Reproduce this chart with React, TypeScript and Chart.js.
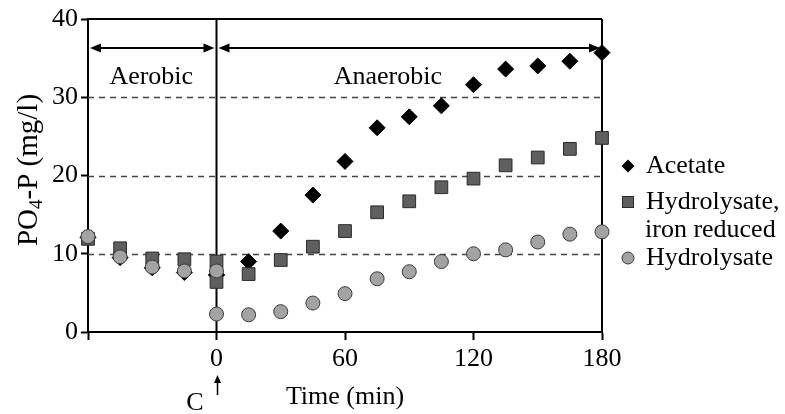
import React, { useEffect, useRef } from "react";
import { Chart, registerables } from "chart.js";

Chart.register(...registerables);

const aerobicTimes = [-60, -45, -30, -15, 0];
const anaerobicTimes = [0, 15, 30, 45, 60, 75, 90, 105, 120, 135, 150, 165, 180];

const acetateAerobic = [12.1, 9.5, 8.2, 7.6, 7.3];
const acetateAnaerobic = [7.3, 9.0, 12.9, 17.5, 21.8, 26.1, 27.5, 28.9, 31.6, 33.6, 34.0, 34.6, 35.7];

const ironReducedAerobic = [11.9, 10.7, 9.4, 9.3, 9.0];
const ironReducedAnaerobic = [6.4, 7.4, 9.2, 10.9, 12.9, 15.3, 16.7, 18.5, 19.6, 21.3, 22.3, 23.4, 24.8];

const hydrolysateAerobic = [12.2, 9.6, 8.3, 7.8, 7.8];
const hydrolysateAnaerobic = [2.3, 2.2, 2.6, 3.7, 4.9, 6.8, 7.7, 9.0, 10.0, 10.5, 11.5, 12.5, 12.8];

const xTicks = [-60, 0, 60, 120, 180];
const yTicks = [0, 10, 20, 30, 40];
const dashedLevels = [10, 20, 30];

const seriesNames = ["Acetate", "Hydrolysate,\niron reduced", "Hydrolysate"];
const phaseLabels = ["Aerobic", "Anaerobic"];
const phaseBounds = [-60, 0, 180];
const phaseArrowY = 36.3;
const phaseLabelY = 32.6;

const FONT = '"Liberation Serif", "Times New Roman", serif';

function pts(xs: number[], ys: number[]) {
  return xs.map((x, i) => ({ x, y: ys[i] }));
}

const annotationPlugin = {
  id: "custom",
  beforeDatasetsDraw(chart: any) {
    const { ctx, chartArea } = chart;
    const xs = chart.scales.x;
    const ys = chart.scales.y;
    ctx.save();
    // dashed gridlines
    ctx.strokeStyle = "#444";
    ctx.lineWidth = 1.3;
    ctx.setLineDash([6, 5]);
    dashedLevels.forEach((v) => {
      const y = Math.round(ys.getPixelForValue(v)) + 0.5;
      ctx.beginPath();
      ctx.moveTo(chartArea.left, y);
      ctx.lineTo(chartArea.right, y);
      ctx.stroke();
    });
    ctx.setLineDash([]);
    ctx.strokeStyle = "#000";
    ctx.lineWidth = 2;
    // top border
    const yTop = ys.getPixelForValue(40);
    ctx.beginPath();
    ctx.moveTo(chartArea.left, yTop);
    ctx.lineTo(chartArea.right, yTop);
    ctx.stroke();
    // vertical lines at 0 and 180
    [0, 180].forEach((v) => {
      const x = xs.getPixelForValue(v);
      ctx.beginPath();
      ctx.moveTo(x, chartArea.top);
      ctx.lineTo(x, chartArea.bottom);
      ctx.stroke();
    });
    // phase arrows
    const ay = ys.getPixelForValue(phaseArrowY);
    for (let i = 0; i < 2; i++) {
      const x1 = xs.getPixelForValue(phaseBounds[i]) + 2;
      const x2 = xs.getPixelForValue(phaseBounds[i + 1]) - 2;
      ctx.lineWidth = 2;
      ctx.beginPath();
      ctx.moveTo(x1 + 6, ay);
      ctx.lineTo(x2 - 6, ay);
      ctx.stroke();
      ctx.fillStyle = "#000";
      ctx.beginPath();
      ctx.moveTo(x1, ay);
      ctx.lineTo(x1 + 11, ay - 4.5);
      ctx.lineTo(x1 + 11, ay + 4.5);
      ctx.closePath();
      ctx.fill();
      ctx.beginPath();
      ctx.moveTo(x2, ay);
      ctx.lineTo(x2 - 11, ay - 4.5);
      ctx.lineTo(x2 - 11, ay + 4.5);
      ctx.closePath();
      ctx.fill();
    }
    ctx.fillStyle = "#000";
    ctx.font = `26px ${FONT}`;
    ctx.textAlign = "center";
    ctx.textBaseline = "middle";
    const ly = ys.getPixelForValue(phaseLabelY);
    ctx.fillText(phaseLabels[0], (xs.getPixelForValue(-60) + xs.getPixelForValue(0)) / 2 - 1, ly);
    ctx.fillText(phaseLabels[1], xs.getPixelForValue(80), ly);
    ctx.restore();
  },
  afterDraw(chart: any) {
    const { ctx } = chart;
    const xs = chart.scales.x;
    ctx.save();
    ctx.fillStyle = "#000";
    ctx.strokeStyle = "#000";
    ctx.font = `26px ${FONT}`;
    ctx.textBaseline = "middle";
    // x title
    ctx.textAlign = "center";
    ctx.fillText("Time (min)", xs.getPixelForValue(60), 397);
    // C marker
    ctx.fillText("C", 195, 403);
    const x0 = xs.getPixelForValue(0) + 1;
    ctx.lineWidth = 1.5;
    ctx.beginPath();
    ctx.moveTo(x0, 395);
    ctx.lineTo(x0, 381);
    ctx.stroke();
    ctx.beginPath();
    ctx.moveTo(x0, 375);
    ctx.lineTo(x0 - 3.5, 383);
    ctx.lineTo(x0 + 3.5, 383);
    ctx.closePath();
    ctx.fill();

    // y title with subscript
    ctx.save();
    ctx.translate(27, 170);
    ctx.rotate(-Math.PI / 2);
    const big = `29px ${FONT}`;
    const small = `19px ${FONT}`;
    ctx.font = big;
    const w1 = ctx.measureText("PO").width;
    const w3 = ctx.measureText("-P (mg/l)").width;
    ctx.font = small;
    const w2 = ctx.measureText("4").width;
    const total = w1 + w2 + w3;
    let cx = -total / 2;
    ctx.textAlign = "left";
    ctx.textBaseline = "alphabetic";
    ctx.font = big;
    ctx.fillText("PO", cx, 10);
    cx += w1;
    ctx.font = small;
    ctx.fillText("4", cx, 15);
    cx += w2;
    ctx.font = big;
    ctx.fillText("-P (mg/l)", cx, 10);
    ctx.restore();

    // legend
    const mx = 628;
    const tx = 646;
    const legendFont = `26px ${FONT}`;
    ctx.font = legendFont;
    ctx.textAlign = "left";
    ctx.textBaseline = "middle";
    // diamond
    ctx.fillStyle = "#000";
    ctx.beginPath();
    ctx.moveTo(mx, 166 - 6.5);
    ctx.lineTo(mx + 6.5, 166);
    ctx.lineTo(mx, 166 + 6.5);
    ctx.lineTo(mx - 6.5, 166);
    ctx.closePath();
    ctx.fill();
    ctx.fillText(seriesNames[0], tx, 166);
    // square
    ctx.fillStyle = "#5f5f5f";
    ctx.strokeStyle = "#2a2a2a";
    ctx.lineWidth = 1;
    ctx.fillRect(mx - 5.5, 202 - 5.5, 11, 11);
    ctx.strokeRect(mx - 5.5, 202 - 5.5, 11, 11);
    ctx.fillStyle = "#000";
    const lines = seriesNames[1].split("\n");
    ctx.fillText(lines[0], tx, 202);
    ctx.fillText(lines[1], tx - 1, 230);
    // circle
    ctx.fillStyle = "#a3a3a3";
    ctx.strokeStyle = "#3a3a3a";
    ctx.beginPath();
    ctx.arc(mx, 258, 6, 0, Math.PI * 2);
    ctx.fill();
    ctx.stroke();
    ctx.fillStyle = "#000";
    ctx.fillText(seriesNames[2], tx, 258);
    ctx.restore();
  },
};

export default function App() {
  const ref = useRef<HTMLCanvasElement | null>(null);
  useEffect(() => {
    document.body.style.margin = "0";
    const canvas = ref.current;
    if (!canvas) return;
    const chart = new Chart(canvas, {
      type: "scatter",
      data: {
        datasets: [
          {
            label: "Hydrolysate",
            data: [...pts(aerobicTimes, hydrolysateAerobic), ...pts(anaerobicTimes, hydrolysateAnaerobic)],
            pointStyle: "circle",
            pointRadius: 7,
            backgroundColor: "#a3a3a3",
            borderColor: "#3a3a3a",
            borderWidth: 1,
            clip: false,
          },
          {
            label: "Hydrolysate, iron reduced",
            data: [...pts(aerobicTimes, ironReducedAerobic), ...pts(anaerobicTimes, ironReducedAnaerobic)],
            pointStyle: "rect",
            pointRadius: 9,
            backgroundColor: "#5f5f5f",
            borderColor: "#2a2a2a",
            borderWidth: 1,
            clip: false,
          },
          {
            label: "Acetate",
            data: [...pts(aerobicTimes, acetateAerobic), ...pts(anaerobicTimes, acetateAnaerobic)],
            pointStyle: "rectRot",
            pointRadius: 8,
            backgroundColor: "#000",
            borderColor: "#000",
            borderWidth: 1,
            clip: false,
          },
        ],
      },
      options: {
        animation: false,
        responsive: true,
        maintainAspectRatio: false,
        layout: { padding: { left: 0, right: 183, top: 19, bottom: 0 } },
        plugins: { legend: { display: false }, tooltip: { enabled: false } },
        scales: {
          x: {
            type: "linear",
            min: -60,
            max: 180,
            afterBuildTicks: (scale: any) => {
              scale.ticks = xTicks.map((v) => ({ value: v }));
            },
            afterFit: (scale: any) => {
              scale.height = 82;
            },
            ticks: {
              font: { family: FONT, size: 26 },
              color: "#000",
              padding: 4,
              maxRotation: 0,
              callback: (v: any) => (v === -60 ? "" : String(v)),
            },
            grid: {
              drawOnChartArea: false,
              drawTicks: true,
              tickLength: 8,
              tickColor: "#000",
              tickWidth: 2,
            },
            border: { display: true, color: "#000", width: 2 },
          },
          y: {
            type: "linear",
            min: 0,
            max: 40,
            afterBuildTicks: (scale: any) => {
              scale.ticks = yTicks.map((v) => ({ value: v }));
            },
            afterFit: (scale: any) => {
              scale.width = 88;
            },
            ticks: {
              font: { family: FONT, size: 26 },
              color: "#000",
              padding: 3,
            },
            grid: {
              drawOnChartArea: false,
              drawTicks: true,
              tickLength: 7,
              tickColor: "#000",
              tickWidth: 2,
            },
            border: { display: true, color: "#000", width: 2 },
          },
        },
      },
      plugins: [annotationPlugin],
    } as any);
    return () => chart.destroy();
  }, []);
  return (
    <div style={{ width: 785, height: 414, position: "relative" }}>
      <canvas ref={ref} />
    </div>
  );
}
